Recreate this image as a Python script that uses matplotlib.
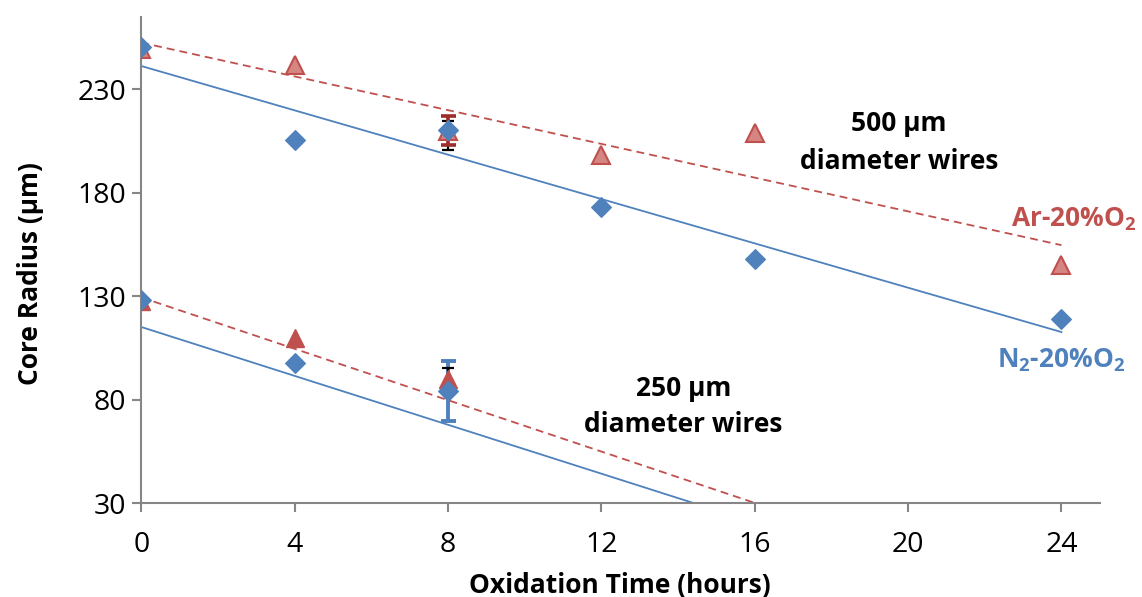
import matplotlib
matplotlib.use("Agg")
import matplotlib.pyplot as plt
import numpy as np

# oxidation times (hours)
time_500 = [0, 4, 8, 12, 16, 24]
time_250 = [0, 4, 8]

# core radius (um)
n2_500 = [250.5, 205.3, 210.3, 172.9, 148.2, 119.0]
ar_500 = [249.5, 241.6, 210.1, 198.5, 208.7, 145.1]
n2_250 = [128.3, 97.6, 84.2]
ar_250 = [127.5, 110.0, 90.0]

# error bars at 8 h: [lower, upper]
n2_500_err = [9.7, 4.3]
ar_500_err = [7.0, 7.0]
n2_250_err = [14.5, 14.5]
ar_250_err = [4.5, 5.5]
err_time = 8

# linear trendlines: intercept, slope
fit_n2_500 = [241.3, -5.36]
fit_ar_500 = [252.6, -4.08]
fit_n2_250 = [115.1, -5.91]
fit_ar_250 = [129.4, -6.21]

xticks = [0, 4, 8, 12, 16, 20, 24]
yticks = [30, 80, 130, 180, 230]

BLUE = "#4F81BD"
RED = "#C0504D"
DARKRED = "#9B2D2A"
GREY = "#868686"

plt.rcParams['font.family'] = ['Open Sans', 'DejaVu Sans']
plt.rcParams['mathtext.fontset'] = 'custom'
plt.rcParams['mathtext.rm'] = 'Open Sans'
plt.rcParams['mathtext.bf'] = 'Open Sans:bold'

W, H = 1142, 597
fig = plt.figure(figsize=(W / 100, H / 100), dpi=100)
ax = fig.add_axes([141.3 / W, 94 / H, (1099.8 - 141.3) / W, (580 - 94) / H])
ax.set_xlim(0, 25)
ax.set_ylim(30, 265)

# trendlines
t_line = np.array([min(time_500), max(time_500)])
for fit, col, ls in [(fit_n2_500, BLUE, '-'), (fit_n2_250, BLUE, '-'),
                     (fit_ar_500, RED, '--'), (fit_ar_250, RED, '--')]:
    ln, = ax.plot(t_line, fit[0] + fit[1] * t_line, color=col, lw=1.3, zorder=2)
    if ls == '--':
        ln.set_dashes((4.4, 2.8))

# error bars (only at 8 h)
def ebar(y, err, col, lw, cap):
    ax.errorbar([err_time], [y], yerr=[[err[0]], [err[1]]], fmt='none',
                ecolor=col, elinewidth=lw, capsize=cap, capthick=lw, zorder=3)

i8 = time_500.index(err_time)
j8 = time_250.index(err_time)
ebar(n2_500[i8], n2_500_err, 'black', 1.6, 4.3)
ebar(ar_500[i8], ar_500_err, DARKRED, 2.6, 5.4)
ebar(n2_250[j8], n2_250_err, BLUE, 2.8, 5.4)
ebar(ar_250[j8], ar_250_err, 'black', 1.6, 4.3)

# markers
ax.plot(time_500, ar_500, ls='none', marker='^', ms=13.5, mfc='#D58582',
        mec=RED, mew=1.5, zorder=4)
ax.plot(time_250, ar_250, ls='none', marker='^', ms=13.5, mfc=RED,
        mec=RED, mew=1.0, zorder=4)
ax.plot(time_500, n2_500, ls='none', marker='D', ms=9.8, mfc=BLUE,
        mec=BLUE, mew=0.8, zorder=5)
ax.plot(time_250, n2_250, ls='none', marker='D', ms=9.8, mfc=BLUE,
        mec=BLUE, mew=0.8, zorder=5)

# axes styling
for s in ['top', 'right']:
    ax.spines[s].set_visible(False)
for s in ['left', 'bottom']:
    ax.spines[s].set_color(GREY)
    ax.spines[s].set_linewidth(1.5)
ax.set_xticks(xticks)
ax.set_yticks(yticks)
ax.tick_params(axis='both', direction='out', length=6.5, width=1.5,
               color=GREY, labelsize=20.5)
ax.tick_params(axis='x', pad=14)
ax.tick_params(axis='y', pad=4.5)

fig.text(619.9 / W, 4 / H, 'Oxidation Time (hours)', ha='center',
         va='baseline', fontsize=19, fontweight='bold')
fig.text(31 / W, (H - 274) / H, 'Core Radius (\u00b5m)', ha='center',
         va='center', rotation=90, fontsize=19, fontweight='bold')

# annotations
ax.text(19.76, 209.8, '500 \u00b5m', ha='center', va='baseline',
        fontsize=19, fontweight='bold')
ax.text(19.76, 191.6, 'diameter wires', ha='center', va='baseline',
        fontsize=19, fontweight='bold')
ax.text(14.14, 81.8, '250 \u00b5m', ha='center', va='baseline',
        fontsize=19, fontweight='bold')
ax.text(14.14, 64.5, 'diameter wires', ha='center', va='baseline',
        fontsize=19, fontweight='bold')
ax.text(24.33, 163.8, r'Ar-20%O$_\mathbf{2}$', ha='center', va='baseline',
        fontsize=19, fontweight='bold', color=RED)
ax.text(23.99, 95.7, r'N$_\mathbf{2}$-20%O$_\mathbf{2}$', ha='center',
        va='baseline', fontsize=19, fontweight='bold', color=BLUE)

fig.savefig('out.png', dpi=100)
